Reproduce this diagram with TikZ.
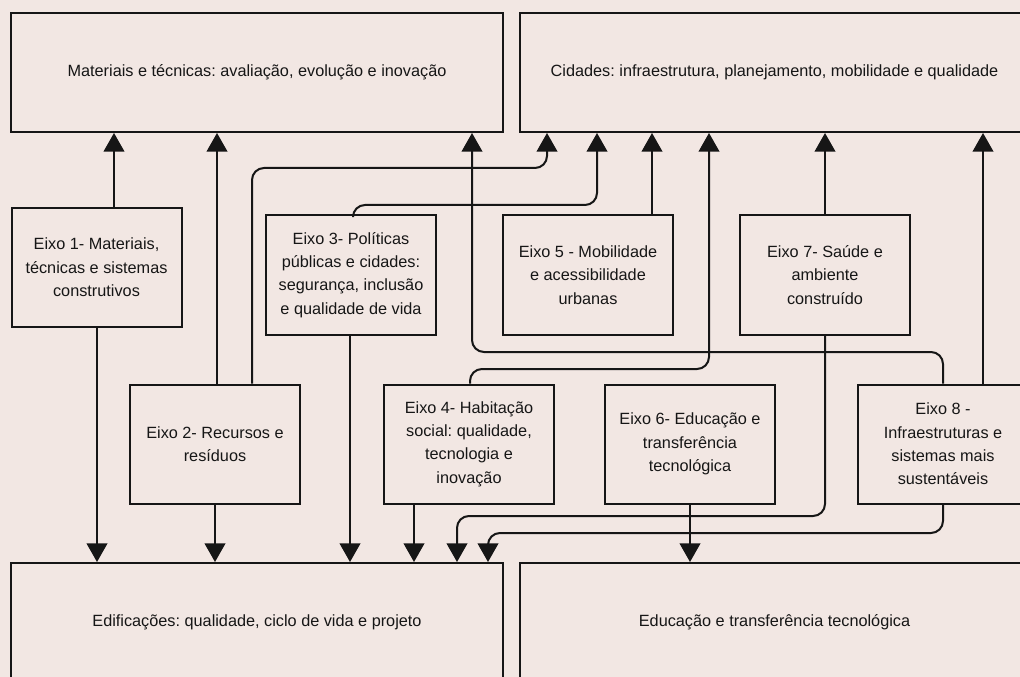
\documentclass[tikz,border=0pt]{standalone}
\usepackage{fontspec}
\setmainfont{Liberation Sans}
\usetikzlibrary{arrows.meta,calc}
\definecolor{bg}{RGB}{242,231,227}
\definecolor{ink}{RGB}{22,22,22}
\frenchspacing
\begin{document}
\begin{tikzpicture}[x=0.75pt,y=-0.75pt,
  box/.style={draw=ink,line width=1.5pt,fill=bg,align=center,inner sep=0pt,
    font=\fontsize{12.2pt}{17.5pt}\selectfont,text=ink},
  big/.style={box,minimum width=369pt,minimum height=89.25pt},
  wide/.style={box,minimum width=381.75pt,minimum height=89.25pt},
  eixo/.style={box,minimum width=127.5pt,minimum height=89.25pt},
  conn/.style={draw=ink,line width=1.5pt,-{Triangle[width=15.5pt,length=14pt]},rounded corners=9pt}]
\fill[bg] (0,0) rectangle (1020,677);
\clip (0,0) rectangle (1020,677);

% main boxes
\node[big]  (mat) at (257,72.5)  {Materiais e técnicas: avaliação, evolução e inovação};
\node[wide] (cid) at (774.5,72.5) {Cidades: infraestrutura, planejamento, mobilidade e qualidade};
\node[big]  (edi) at (257,622.5) {Edificações: qualidade, ciclo de vida e projeto};
\node[wide] (edu) at (774.5,622.5) {Educação e transferência tecnológica};

% eixos
\node[eixo] (e1) at (96.5,267.5) {Eixo 1- Materiais,\\técnicas e sistemas\\construtivos};
\node[eixo] (e3) at (351,275) {Eixo 3- Políticas\\públicas e cidades:\\segurança, inclusão\\e qualidade de vida};
\node[eixo] (e5) at (588,275) {Eixo 5 - Mobilidade\\e acessibilidade\\urbanas};
\node[eixo] (e7) at (825,275) {Eixo 7- Saúde e\\ambiente\\construído};
\node[eixo] (e2) at (215,444) {Eixo 2- Recursos e\\resíduos};
\node[eixo] (e4) at (469,444) {Eixo 4- Habitação\\social: qualidade,\\tecnologia e\\inovação};
\node[eixo] (e6) at (690,444) {Eixo 6- Educação e\\transferência\\tecnológica};
\node[eixo] (e8) at (943,444) {Eixo 8 -\\Infraestruturas e\\sistemas mais\\sustentáveis};

% columns
\foreach \c in {97,114,215,217,252,350,353,414,457,470,472,488,547,597,652,690,709,825,943,983}
  {\coordinate (x\c) at (\c,0);}

% to Materiais
\draw[conn] (x114 |- e1.north) -- (x114 |- mat.south);
\draw[conn] (x217 |- e2.north) -- (x217 |- mat.south);
\draw[conn] (x943 |- e8.north) -- (943,352) -- (472,352) -- (x472 |- mat.south);

% to Cidades
\draw[conn] (x252 |- e2.north) -- (252,168) -- (547,168) -- (x547 |- cid.south);
\draw[conn] (x353 |- e3.north) -- (353,205) -- (597,205) -- (x597 |- cid.south);
\draw[conn] (x652 |- e5.north) -- (x652 |- cid.south);
\draw[conn] (x470 |- e4.north) -- (470,369) -- (709,369) -- (x709 |- cid.south);
\draw[conn] (x825 |- e7.north) -- (x825 |- cid.south);
\draw[conn] (x983 |- e8.north) -- (x983 |- cid.south);

% to Edificações
\draw[conn] (x97 |- e1.south) -- (x97 |- edi.north);
\draw[conn] (x215 |- e2.south) -- (x215 |- edi.north);
\draw[conn] (x350 |- e3.south) -- (x350 |- edi.north);
\draw[conn] (x414 |- e4.south) -- (x414 |- edi.north);
\draw[conn] (x825 |- e7.south) -- (825,516) -- (457,516) -- (x457 |- edi.north);
\draw[conn] (x943 |- e8.south) -- (943,533) -- (488,533) -- (x488 |- edi.north);

% to Educação
\draw[conn] (x690 |- e6.south) -- (x690 |- edu.north);
\end{tikzpicture}
\end{document}
